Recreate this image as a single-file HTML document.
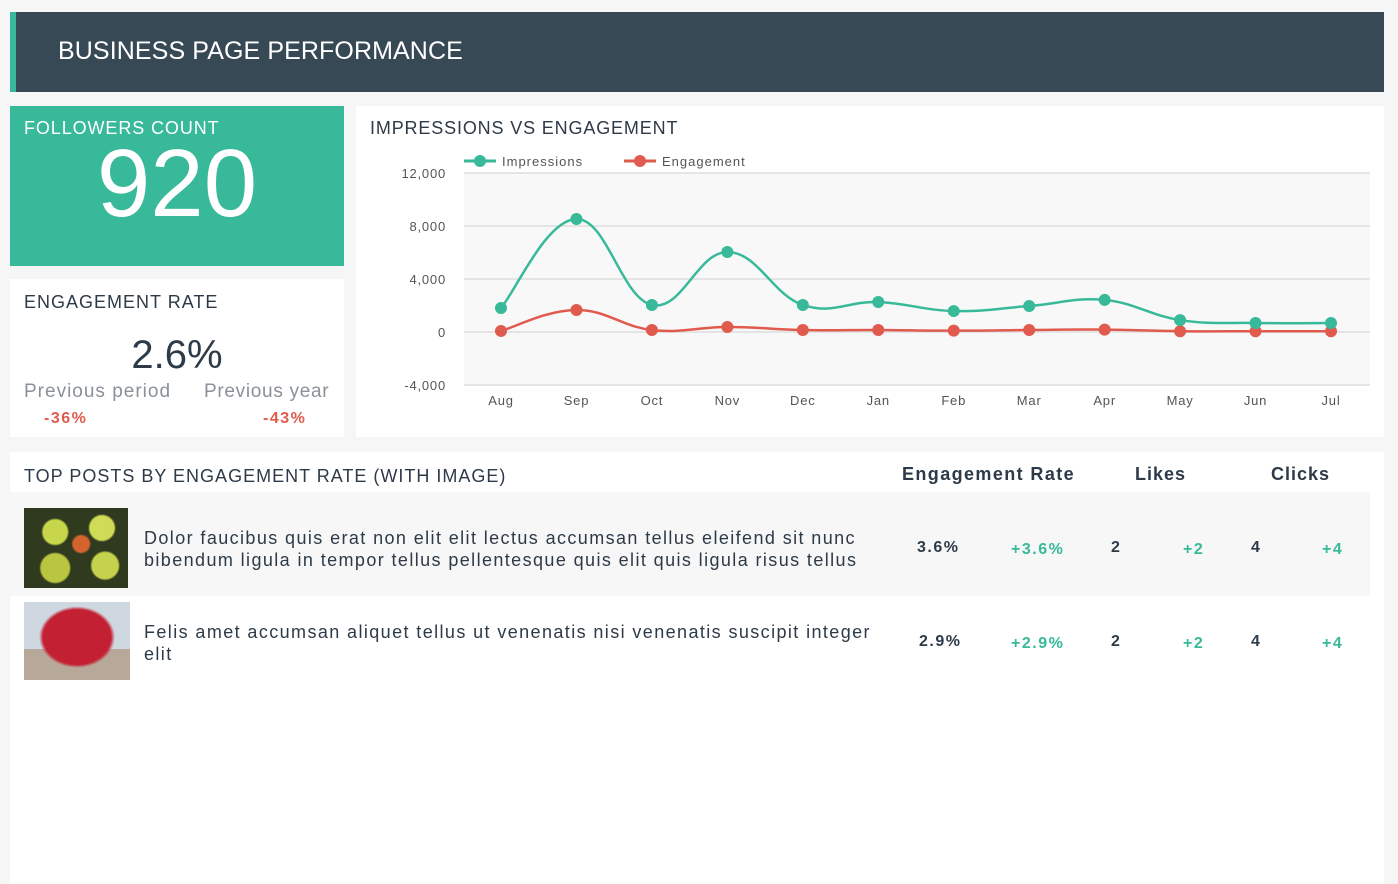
<!DOCTYPE html>
<html><head><meta charset="utf-8"><style>
body{margin:0;width:1398px;height:884px;background:#f6f6f6;font-family:"Liberation Sans",sans-serif;position:relative;overflow:hidden;color:#2d3a48}
.abs{position:absolute}
.panel{position:absolute;background:#fff}
.t{position:absolute;white-space:nowrap}
.n{letter-spacing:1.5px}
</style></head><body>
<div class="abs" style="left:10px;top:12px;width:1374px;height:80px;background:#384956;border-left:6px solid #38b99a;box-sizing:border-box">
<div class="t" style="left:42px;top:25px;font-size:25px;color:#fff;letter-spacing:0.1px">BUSINESS PAGE PERFORMANCE</div></div>

<div class="panel" style="left:10px;top:106px;width:334px;height:160px;background:#38b99a">
<div class="t" style="left:14px;top:12px;font-size:18px;color:#fff;letter-spacing:0.9px">FOLLOWERS COUNT</div>
<div class="t" style="left:0;width:334px;text-align:center;top:28px;font-size:96px;color:#fff;line-height:100px">920</div></div>

<div class="panel" style="left:10px;top:279px;width:334px;height:158px">
<div class="t" style="left:14px;top:13px;font-size:18px;letter-spacing:1px">ENGAGEMENT RATE</div>
<div class="t" style="left:0;width:334px;text-align:center;top:54px;font-size:40px;color:#2d3a48">2.6%</div>
<div class="t" style="left:14px;top:102px;font-size:19px;color:#8a9199;letter-spacing:1px">Previous period</div>
<div class="t" style="left:194px;top:102px;font-size:19px;color:#8a9199;letter-spacing:0.7px">Previous year</div>
<div class="t n" style="left:34px;top:131px;font-size:16px;font-weight:bold;color:#e05a4e">-36%</div>
<div class="t n" style="left:253px;top:131px;font-size:16px;font-weight:bold;color:#e05a4e">-43%</div></div>

<div class="panel" style="left:356px;top:106px;width:1028px;height:331px">
<div class="t" style="left:14px;top:12px;font-size:18px;letter-spacing:0.85px">IMPRESSIONS VS ENGAGEMENT</div></div>
<svg class="abs" id="chart" style="left:0;top:0" width="1398" height="440"></svg>

<div class="panel" style="left:10px;top:452px;width:1374px;height:432px">
<div class="t" style="left:14px;top:14px;font-size:18px;letter-spacing:1px">TOP POSTS BY ENGAGEMENT RATE (WITH IMAGE)</div>
<div class="t" style="left:892px;top:12px;font-size:18px;font-weight:bold;letter-spacing:1.4px">Engagement Rate</div>
<div class="t" style="left:1125px;top:12px;font-size:18px;font-weight:bold;letter-spacing:1px">Likes</div>
<div class="t" style="left:1261px;top:12px;font-size:18px;font-weight:bold;letter-spacing:1px">Clicks</div>

<div class="abs" style="left:0;top:40px;width:1360px;height:104px;background:#f7f7f7">
<div class="abs" style="left:14px;top:16px;width:104px;height:80px;background:radial-gradient(circle at 30% 30%,#c7d64a 0 12px,transparent 14px),radial-gradient(circle at 75% 25%,#d0dc55 0 12px,transparent 14px),radial-gradient(circle at 55% 45%,#d4632e 0 8px,transparent 10px),radial-gradient(circle at 30% 75%,#b9c640 0 14px,transparent 16px),radial-gradient(circle at 78% 72%,#c4d24c 0 13px,transparent 15px),#2f3a1e"></div>
<div class="t" style="left:134px;top:35px;font-size:18px;line-height:22px;letter-spacing:1.4px">Dolor faucibus quis erat non elit elit lectus accumsan tellus eleifend sit nunc<br>bibendum ligula in tempor tellus pellentesque quis elit quis ligula risus tellus</div>
<div class="t n" style="left:907px;top:47px;font-size:16px;font-weight:bold">3.6%</div>
<div class="t n" style="left:1001px;top:49px;font-size:16px;font-weight:bold;color:#38b99a">+3.6%</div>
<div class="t" style="left:1101px;top:47px;font-size:16px;font-weight:bold">2</div>
<div class="t n" style="left:1173px;top:49px;font-size:16px;font-weight:bold;color:#38b99a">+2</div>
<div class="t" style="left:1241px;top:47px;font-size:16px;font-weight:bold">4</div>
<div class="t n" style="left:1312px;top:49px;font-size:16px;font-weight:bold;color:#38b99a">+4</div></div>

<div class="abs" style="left:0;top:144px;width:1360px;height:90px">
<div class="abs" style="left:14px;top:6px;width:106px;height:78px;background:radial-gradient(ellipse at 50% 45%,#c42034 0 34px,transparent 38px),linear-gradient(#cfd8e0 0 60%,#b8a89a 60%)"></div>
<div class="t" style="left:134px;top:25px;font-size:18px;line-height:22px;letter-spacing:1.4px">Felis amet accumsan aliquet tellus ut venenatis nisi venenatis suscipit integer<br>elit</div>
<div class="t n" style="left:909px;top:37px;font-size:16px;font-weight:bold">2.9%</div>
<div class="t n" style="left:1001px;top:39px;font-size:16px;font-weight:bold;color:#38b99a">+2.9%</div>
<div class="t" style="left:1101px;top:37px;font-size:16px;font-weight:bold">2</div>
<div class="t n" style="left:1173px;top:39px;font-size:16px;font-weight:bold;color:#38b99a">+2</div>
<div class="t" style="left:1241px;top:37px;font-size:16px;font-weight:bold">4</div>
<div class="t n" style="left:1312px;top:39px;font-size:16px;font-weight:bold;color:#38b99a">+4</div></div>
</div>

<script>
const months=["Aug","Sep","Oct","Nov","Dec","Jan","Feb","Mar","Apr","May","Jun","Jul"];
const impressions=[1810,8530,2040,6040,2040,2260,1580,1960,2420,900,680,680];
const engagement=[80,1660,150,380,150,150,100,150,180,60,60,60];
const yTicks=[12000,8000,4000,0,-4000];
const yTickLabels=["12,000","8,000","4,000","0","-4,000"];
const NS="http://www.w3.org/2000/svg";
const svg=document.getElementById('chart');
const plotL=464,plotR=1370;
function X(i){return 501+i*(1331-501)/(months.length-1);}
function Y(v){return 332-v*(385-332)/4000;}
function mk(tag,attrs){const e=document.createElementNS(NS,tag);for(const k in attrs)e.setAttribute(k,attrs[k]);svg.appendChild(e);return e;}
const bg=mk('rect',{x:plotL,y:Y(12000),width:plotR-plotL,height:Y(-4000)-Y(12000),fill:'#f8f8f8'});


yTicks.forEach((v,i)=>{
 const g=mk('line',{x1:plotL,x2:plotR,y1:Y(v),y2:Y(v),stroke:'#dedede','stroke-width':1.5});
 
 
 const t=mk('text',{x:446,y:Y(v)+5,'text-anchor':'end','font-size':13,fill:'#555','font-family':'Liberation Sans, sans-serif','letter-spacing':'0.8'});
 t.textContent=yTickLabels[i];
 
 
});
months.forEach((m,i)=>{
 const t=mk('text',{x:X(i),y:405,'text-anchor':'middle','font-size':13,fill:'#555','font-family':'Liberation Sans, sans-serif','letter-spacing':'0.8'});
 t.textContent=m;
 
 
});
function path(vals){
 const p=vals.map((v,i)=>[X(i),Y(v)]);
 let d='M'+p[0][0]+','+p[0][1];
 for(let i=0;i<p.length-1;i++){
  const p0=p[Math.max(0,i-1)],p1=p[i],p2=p[i+1],p3=p[Math.min(p.length-1,i+2)];
  const k=0.2;
  d+=' C'+(p1[0]+(p2[0]-p0[0])*k)+','+(p1[1]+(p2[1]-p0[1])*k)+' '+(p2[0]-(p3[0]-p1[0])*k)+','+(p2[1]-(p3[1]-p1[1])*k)+' '+p2[0]+','+p2[1];
 }
 return d;
}
function series(vals,color,name){
 const l=mk('path',{d:path(vals),fill:'none',stroke:color,'stroke-width':2.5});
 
 
 vals.forEach((v,i)=>{
  const c=mk('circle',{cx:X(i),cy:Y(v),r:6,fill:color});
  
  
 });
}
series(engagement,'#e05a4e','engagement');
series(impressions,'#38b99a','impressions');
[[464,'#38b99a','Impressions','legend-impressions'],[624,'#e05a4e','Engagement','legend-engagement']].forEach(a=>{
 const g=mk('g',{});
 
 
 const ln=document.createElementNS(NS,'line');ln.setAttribute('x1',a[0]);ln.setAttribute('x2',a[0]+32);ln.setAttribute('y1',161);ln.setAttribute('y2',161);ln.setAttribute('stroke',a[1]);ln.setAttribute('stroke-width',3);g.appendChild(ln);
 const c=document.createElementNS(NS,'circle');c.setAttribute('cx',a[0]+16);c.setAttribute('cy',161);c.setAttribute('r',6);c.setAttribute('fill',a[1]);g.appendChild(c);
 const t=document.createElementNS(NS,'text');t.setAttribute('x',a[0]+38);t.setAttribute('y',166);t.setAttribute('font-size',13);t.setAttribute('fill','#555');t.setAttribute('font-family','Liberation Sans, sans-serif');t.setAttribute('letter-spacing','1');t.textContent=a[2];g.appendChild(t);
});
</script>
</body></html>
